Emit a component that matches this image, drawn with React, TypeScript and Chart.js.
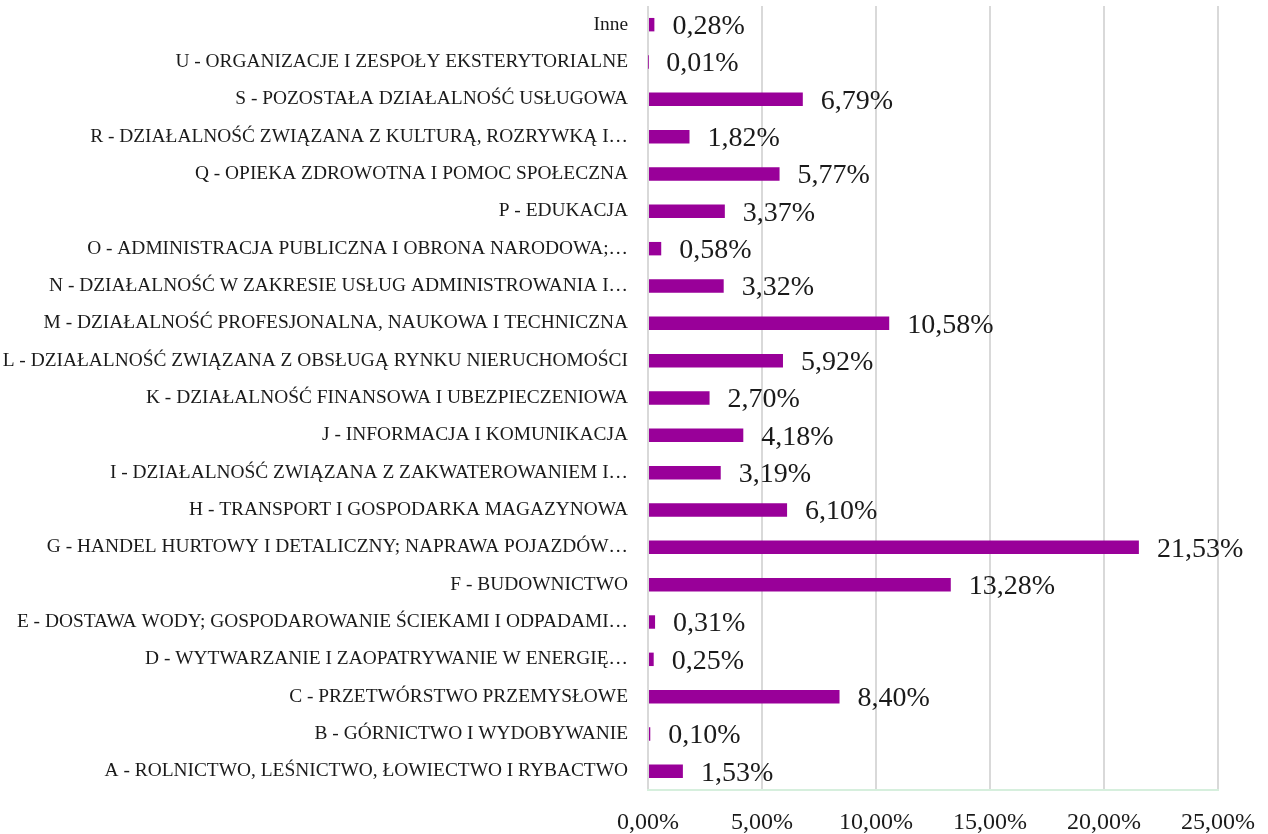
import React, { useEffect, useRef } from "react";
import { Chart, registerables } from "chart.js";

Chart.register(...registerables);

const categories: string[] = [
  "Inne",
  "U - ORGANIZACJE I ZESPOŁY EKSTERYTORIALNE",
  "S - POZOSTAŁA DZIAŁALNOŚĆ USŁUGOWA",
  "R - DZIAŁALNOŚĆ ZWIĄZANA Z KULTURĄ, ROZRYWKĄ I…",
  "Q - OPIEKA ZDROWOTNA I POMOC SPOŁECZNA",
  "P - EDUKACJA",
  "O - ADMINISTRACJA PUBLICZNA I OBRONA NARODOWA;…",
  "N - DZIAŁALNOŚĆ W ZAKRESIE USŁUG ADMINISTROWANIA I…",
  "M - DZIAŁALNOŚĆ PROFESJONALNA, NAUKOWA I TECHNICZNA",
  "L - DZIAŁALNOŚĆ ZWIĄZANA Z OBSŁUGĄ RYNKU NIERUCHOMOŚCI",
  "K - DZIAŁALNOŚĆ FINANSOWA I UBEZPIECZENIOWA",
  "J - INFORMACJA I KOMUNIKACJA",
  "I - DZIAŁALNOŚĆ ZWIĄZANA Z ZAKWATEROWANIEM I…",
  "H - TRANSPORT I GOSPODARKA MAGAZYNOWA",
  "G - HANDEL HURTOWY I DETALICZNY; NAPRAWA POJAZDÓW…",
  "F - BUDOWNICTWO",
  "E - DOSTAWA WODY; GOSPODAROWANIE ŚCIEKAMI I ODPADAMI…",
  "D - WYTWARZANIE I ZAOPATRYWANIE W ENERGIĘ…",
  "C - PRZETWÓRSTWO PRZEMYSŁOWE",
  "B - GÓRNICTWO I WYDOBYWANIE",
  "A - ROLNICTWO, LEŚNICTWO, ŁOWIECTWO I RYBACTWO",
];

const shares: number[] = [
  0.28, 0.01, 6.79, 1.82, 5.77, 3.37, 0.58, 3.32, 10.58, 5.92, 2.7, 4.18,
  3.19, 6.1, 21.53, 13.28, 0.31, 0.25, 8.4, 0.1, 1.53,
];

const xTicks: number[] = [0, 5, 10, 15, 20, 25];

const fmt = (v: number) => v.toFixed(2).replace(".", ",") + "%";

const FONT = "'Liberation Serif', 'DejaVu Serif', serif";
const TEXT = "#1a1a1a";

const valueLabels = {
  id: "valueLabels",
  afterDatasetsDraw(chart: any) {
    const ctx = chart.ctx;
    const meta = chart.getDatasetMeta(0);
    ctx.save();
    ctx.font = `28px ${FONT}`;
    ctx.fillStyle = TEXT;
    ctx.textAlign = "left";
    ctx.textBaseline = "middle";
    meta.data.forEach((bar: any, i: number) => {
      ctx.fillText(fmt(shares[i]), bar.x + 18, bar.y + 2);
    });
    ctx.restore();
  },
};

export default function App() {
  const ref = useRef<HTMLCanvasElement | null>(null);
  useEffect(() => {
    if (!ref.current) return;
    const chart = new Chart(ref.current, {
      type: "bar",
      data: {
        labels: categories,
        datasets: [
          {
            data: shares,
            backgroundColor: "#990099",
            borderWidth: 0,
            barPercentage: 0.36,
            categoryPercentage: 1,
          },
        ],
      },
      options: {
        indexAxis: "y",
        responsive: false,
        animation: false,
        devicePixelRatio: 1,
        layout: { padding: { top: 6, right: 50, left: 0, bottom: 0 } },
        plugins: {
          legend: { display: false },
          tooltip: { enabled: false },
        },
        scales: {
          x: {
            min: 0,
            max: 25,
            afterBuildTicks: (scale: any) => {
              scale.ticks = xTicks.map((v) => ({ value: v }));
            },
            afterFit: (scale: any) => {
              scale.height = 44;
              scale.paddingLeft = 0;
              scale.paddingRight = 0;
            },
            ticks: {
              autoSkip: false,
              maxRotation: 0,
              padding: 18,
              color: TEXT,
              font: { family: FONT, size: 24 },
              callback: (v: any) => fmt(Number(v)),
            },
            grid: {
              color: "#d9d9d9",
              lineWidth: 2,
              drawTicks: false,
            },
            border: { display: true, color: "#d6efdd", width: 2 },
          },
          y: {
            afterFit: (scale: any) => {
              scale.width = 648;
              scale.paddingTop = 0;
              scale.paddingBottom = 0;
            },
            ticks: {
              autoSkip: false,
              padding: 20,
              color: TEXT,
              font: { family: FONT, size: 19.4 },
            },
            grid: { display: false, drawTicks: false },
            border: { display: false },
          },
        },
      },
      plugins: [valueLabels],
    });
    return () => chart.destroy();
  }, []);
  return (
    <canvas
      ref={ref}
      width={1268}
      height={834}
      style={{ position: "absolute", left: 0, top: 0, background: "#fff" }}
    />
  );
}
